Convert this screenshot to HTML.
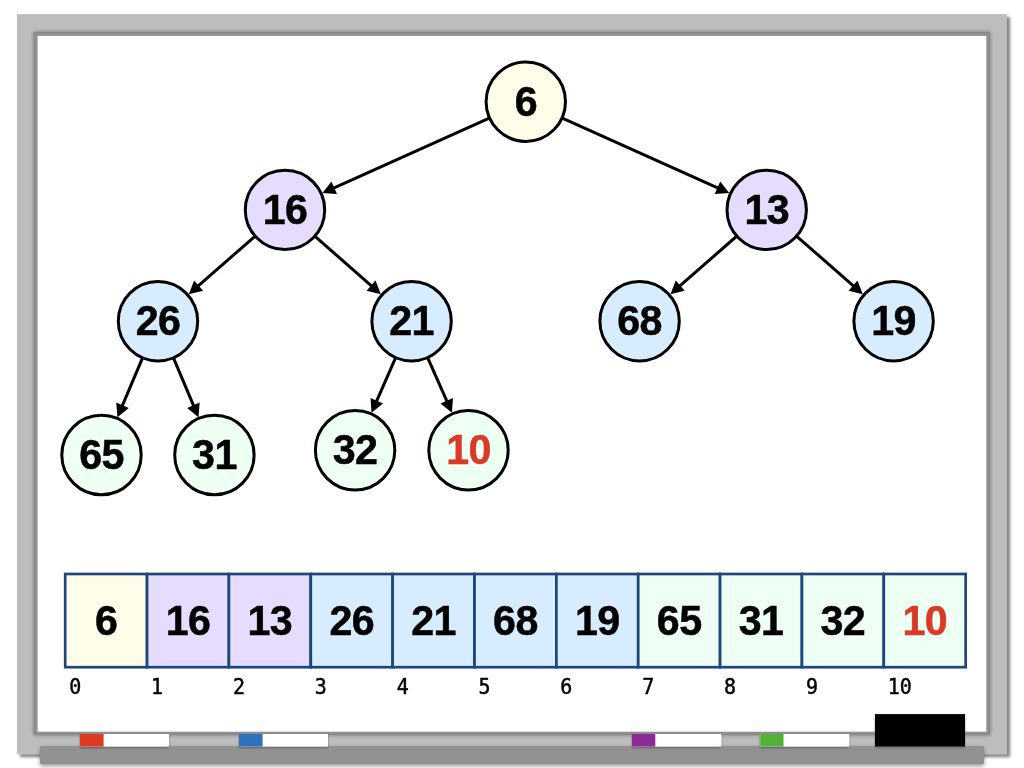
<!DOCTYPE html>
<html><head><meta charset="utf-8"><title>Heap</title>
<style>
html,body{margin:0;padding:0;background:#fff;}
body{width:1024px;height:768px;overflow:hidden;position:relative;font-family:"Liberation Sans",sans-serif;}
svg{position:absolute;left:0;top:0;}
text{opacity:.999;}
.n{font-family:"Liberation Sans",sans-serif;font-weight:bold;font-size:41.2px;text-anchor:middle;letter-spacing:-0.6px;}
.ix{font-family:"DejaVu Sans Mono","Liberation Mono",monospace;font-size:20px;}
</style></head><body>
<svg width="1024" height="768" viewBox="0 0 1024 768">
<defs>
<filter id="fs" x="-5%" y="-5%" width="110%" height="110%"><feGaussianBlur in="SourceAlpha" stdDeviation="1.6"/><feOffset dx="2.6" dy="2.9"/><feComponentTransfer><feFuncA type="linear" slope="0.5"/></feComponentTransfer><feMerge><feMergeNode/><feMergeNode in="SourceGraphic"/></feMerge></filter>
<filter id="gl" x="-5%" y="-5%" width="110%" height="110%"><feGaussianBlur in="SourceAlpha" stdDeviation="2.2"/><feComponentTransfer><feFuncA type="linear" slope="0.38"/></feComponentTransfer><feMerge><feMergeNode/><feMergeNode in="SourceGraphic"/></feMerge></filter>
<filter id="ts" x="-5%" y="-50%" width="110%" height="200%"><feGaussianBlur in="SourceAlpha" stdDeviation="1.3"/><feOffset dx="0" dy="1"/><feComponentTransfer><feFuncA type="linear" slope="0.4"/></feComponentTransfer><feMerge><feMergeNode/><feMergeNode in="SourceGraphic"/></feMerge></filter>
<filter id="tr" x="-5%" y="-50%" width="110%" height="220%"><feGaussianBlur in="SourceAlpha" stdDeviation="2"/><feOffset dx="0" dy="1.6"/><feComponentTransfer><feFuncA type="linear" slope="0.42"/></feComponentTransfer><feMerge><feMergeNode/><feMergeNode in="SourceGraphic"/></feMerge></filter>
</defs>
<rect x="17" y="14.1" width="990" height="740" fill="#bdbdbd" filter="url(#fs)"/>
<rect x="33.7" y="32" width="956.3" height="702.8" fill="#909090" filter="url(#gl)"/>
<rect x="34.2" y="32.5" width="955.3" height="701.8" fill="none" stroke="#868788" stroke-width="1"/>
<rect x="37.6" y="35.9" width="948.7" height="695.8" fill="#fff"/>
<rect x="40" y="746.05" width="944" height="17.95" fill="#919191" filter="url(#tr)"/>
<g filter="url(#ts)">
<rect x="80" y="734" width="89" height="12.6" fill="#fff"/><rect x="80" y="734" width="23.6" height="12.6" fill="#dc3a24"/>
<rect x="239" y="734" width="89" height="12.6" fill="#fff"/><rect x="239" y="734" width="23.6" height="12.6" fill="#2f73b9"/>
<rect x="632" y="734" width="89.3" height="12.6" fill="#fff"/><rect x="632" y="734" width="23.3" height="12.6" fill="#8e2b93"/>
<rect x="760.2" y="734" width="89" height="12.6" fill="#fff"/><rect x="760.2" y="734" width="23.3" height="12.6" fill="#52b135"/>
<rect x="875" y="714.1" width="90" height="32.3" fill="#000"/>
</g>

<line x1="489.31" y1="118.09" x2="332.43" y2="188.59" stroke="#000" stroke-width="3"/>
<polygon points="322.40,193.10 331.47,181.56 337.04,193.97" fill="#000"/>
<line x1="562.29" y1="118.09" x2="719.26" y2="188.59" stroke="#000" stroke-width="3"/>
<polygon points="729.30,193.10 714.65,193.98 720.23,181.57" fill="#000"/>
<line x1="254.92" y1="236.26" x2="197.11" y2="286.93" stroke="#000" stroke-width="3"/>
<polygon points="188.83,294.18 194.13,280.50 203.09,290.72" fill="#000"/>
<line x1="315.04" y1="236.31" x2="372.55" y2="286.87" stroke="#000" stroke-width="3"/>
<polygon points="380.81,294.13 366.55,290.65 375.53,280.44" fill="#000"/>
<line x1="736.61" y1="236.25" x2="678.72" y2="286.94" stroke="#000" stroke-width="3"/>
<polygon points="670.45,294.19 675.75,280.51 684.71,290.74" fill="#000"/>
<line x1="796.77" y1="236.28" x2="854.51" y2="286.91" stroke="#000" stroke-width="3"/>
<polygon points="862.78,294.17 848.52,290.71 857.49,280.48" fill="#000"/>
<line x1="142.44" y1="358.05" x2="121.73" y2="407.10" stroke="#000" stroke-width="3"/>
<polygon points="117.45,417.23 116.24,402.61 128.77,407.90" fill="#000"/>
<line x1="173.54" y1="358.06" x2="194.20" y2="407.08" stroke="#000" stroke-width="3"/>
<polygon points="198.47,417.22 187.16,407.88 199.69,402.60" fill="#000"/>
<line x1="395.56" y1="357.84" x2="375.96" y2="402.62" stroke="#000" stroke-width="3"/>
<polygon points="371.54,412.69 370.53,398.06 382.99,403.51" fill="#000"/>
<line x1="427.74" y1="357.80" x2="447.52" y2="402.67" stroke="#000" stroke-width="3"/>
<polygon points="451.96,412.73 440.49,403.58 452.94,398.10" fill="#000"/>
<circle cx="525.80" cy="101.70" r="39.7" fill="#fffde9" stroke="#000" stroke-width="3"/>
<text class="n" transform="translate(525.80,115.90) scale(1,1.02)" fill="#000" stroke="#000" stroke-width="0.5">6</text>
<circle cx="285.00" cy="209.90" r="39.7" fill="#e6dcfe" stroke="#000" stroke-width="3"/>
<text class="n" transform="translate(285.00,224.10) scale(1,1.02)" fill="#000" stroke="#000" stroke-width="0.5">16</text>
<circle cx="766.70" cy="209.90" r="39.7" fill="#e6dcfe" stroke="#000" stroke-width="3"/>
<text class="n" transform="translate(766.70,224.10) scale(1,1.02)" fill="#000" stroke="#000" stroke-width="0.5">13</text>
<circle cx="158.00" cy="321.20" r="39.7" fill="#d7ecfe" stroke="#000" stroke-width="3"/>
<text class="n" transform="translate(158.00,335.40) scale(1,1.02)" fill="#000" stroke="#000" stroke-width="0.5">26</text>
<circle cx="411.60" cy="321.20" r="39.7" fill="#d7ecfe" stroke="#000" stroke-width="3"/>
<text class="n" transform="translate(411.60,335.40) scale(1,1.02)" fill="#000" stroke="#000" stroke-width="0.5">21</text>
<circle cx="639.60" cy="321.20" r="39.7" fill="#d7ecfe" stroke="#000" stroke-width="3"/>
<text class="n" transform="translate(639.60,335.40) scale(1,1.02)" fill="#000" stroke="#000" stroke-width="0.5">68</text>
<circle cx="893.60" cy="321.20" r="39.7" fill="#d7ecfe" stroke="#000" stroke-width="3"/>
<text class="n" transform="translate(893.60,335.40) scale(1,1.02)" fill="#000" stroke="#000" stroke-width="0.5">19</text>
<circle cx="101.50" cy="455.00" r="39.7" fill="#eefff4" stroke="#000" stroke-width="3"/>
<text class="n" transform="translate(101.50,469.20) scale(1,1.02)" fill="#000" stroke="#000" stroke-width="0.5">65</text>
<circle cx="214.40" cy="455.00" r="39.7" fill="#eefff4" stroke="#000" stroke-width="3"/>
<text class="n" transform="translate(214.40,469.20) scale(1,1.02)" fill="#000" stroke="#000" stroke-width="0.5">31</text>
<circle cx="355.10" cy="450.25" r="39.7" fill="#eefff4" stroke="#000" stroke-width="3"/>
<text class="n" transform="translate(355.10,464.45) scale(1,1.02)" fill="#000" stroke="#000" stroke-width="0.5">32</text>
<circle cx="468.50" cy="450.25" r="39.7" fill="#eefff4" stroke="#000" stroke-width="3"/>
<text class="n" transform="translate(468.50,464.45) scale(1,1.02)" fill="#d93a26" stroke="#d93a26" stroke-width="0.5">10</text>
<rect x="65.20" y="574.00" width="81.86" height="93.20" fill="#fffde9" stroke="#1e467a" stroke-width="2.7"/>
<rect x="147.06" y="574.00" width="81.86" height="93.20" fill="#e6dcfe" stroke="#1e467a" stroke-width="2.7"/>
<rect x="228.92" y="574.00" width="81.86" height="93.20" fill="#e6dcfe" stroke="#1e467a" stroke-width="2.7"/>
<rect x="310.78" y="574.00" width="81.86" height="93.20" fill="#d7ecfe" stroke="#1e467a" stroke-width="2.7"/>
<rect x="392.64" y="574.00" width="81.86" height="93.20" fill="#d7ecfe" stroke="#1e467a" stroke-width="2.7"/>
<rect x="474.50" y="574.00" width="81.86" height="93.20" fill="#d7ecfe" stroke="#1e467a" stroke-width="2.7"/>
<rect x="556.36" y="574.00" width="81.86" height="93.20" fill="#d7ecfe" stroke="#1e467a" stroke-width="2.7"/>
<rect x="638.22" y="574.00" width="81.86" height="93.20" fill="#eefff4" stroke="#1e467a" stroke-width="2.7"/>
<rect x="720.08" y="574.00" width="81.86" height="93.20" fill="#eefff4" stroke="#1e467a" stroke-width="2.7"/>
<rect x="801.94" y="574.00" width="81.86" height="93.20" fill="#eefff4" stroke="#1e467a" stroke-width="2.7"/>
<rect x="883.80" y="574.00" width="81.86" height="93.20" fill="#eefff4" stroke="#1e467a" stroke-width="2.7"/>
<text class="n" transform="translate(106.13,635.40) scale(1,1.02)" fill="#000" stroke="#000" stroke-width="0.5">6</text>
<text class="ix" transform="translate(69.20,693.8) scale(1,1.08)" x="0" y="0" fill="#000" stroke="#000" stroke-width="0.45">0</text>
<text class="n" transform="translate(187.99,635.40) scale(1,1.02)" fill="#000" stroke="#000" stroke-width="0.5">16</text>
<text class="ix" transform="translate(151.06,693.8) scale(1,1.08)" x="0" y="0" fill="#000" stroke="#000" stroke-width="0.45">1</text>
<text class="n" transform="translate(269.85,635.40) scale(1,1.02)" fill="#000" stroke="#000" stroke-width="0.5">13</text>
<text class="ix" transform="translate(232.92,693.8) scale(1,1.08)" x="0" y="0" fill="#000" stroke="#000" stroke-width="0.45">2</text>
<text class="n" transform="translate(351.71,635.40) scale(1,1.02)" fill="#000" stroke="#000" stroke-width="0.5">26</text>
<text class="ix" transform="translate(314.78,693.8) scale(1,1.08)" x="0" y="0" fill="#000" stroke="#000" stroke-width="0.45">3</text>
<text class="n" transform="translate(433.57,635.40) scale(1,1.02)" fill="#000" stroke="#000" stroke-width="0.5">21</text>
<text class="ix" transform="translate(396.64,693.8) scale(1,1.08)" x="0" y="0" fill="#000" stroke="#000" stroke-width="0.45">4</text>
<text class="n" transform="translate(515.43,635.40) scale(1,1.02)" fill="#000" stroke="#000" stroke-width="0.5">68</text>
<text class="ix" transform="translate(478.50,693.8) scale(1,1.08)" x="0" y="0" fill="#000" stroke="#000" stroke-width="0.45">5</text>
<text class="n" transform="translate(597.29,635.40) scale(1,1.02)" fill="#000" stroke="#000" stroke-width="0.5">19</text>
<text class="ix" transform="translate(560.36,693.8) scale(1,1.08)" x="0" y="0" fill="#000" stroke="#000" stroke-width="0.45">6</text>
<text class="n" transform="translate(679.15,635.40) scale(1,1.02)" fill="#000" stroke="#000" stroke-width="0.5">65</text>
<text class="ix" transform="translate(642.22,693.8) scale(1,1.08)" x="0" y="0" fill="#000" stroke="#000" stroke-width="0.45">7</text>
<text class="n" transform="translate(761.01,635.40) scale(1,1.02)" fill="#000" stroke="#000" stroke-width="0.5">31</text>
<text class="ix" transform="translate(724.08,693.8) scale(1,1.08)" x="0" y="0" fill="#000" stroke="#000" stroke-width="0.45">8</text>
<text class="n" transform="translate(842.87,635.40) scale(1,1.02)" fill="#000" stroke="#000" stroke-width="0.5">32</text>
<text class="ix" transform="translate(805.94,693.8) scale(1,1.08)" x="0" y="0" fill="#000" stroke="#000" stroke-width="0.45">9</text>
<text class="n" transform="translate(924.73,635.40) scale(1,1.02)" fill="#d93a26" stroke="#d93a26" stroke-width="0.5">10</text>
<text class="ix" transform="translate(887.80,693.8) scale(1,1.08)" x="0" y="0" fill="#000" stroke="#000" stroke-width="0.45">10</text>
</svg></body></html>
